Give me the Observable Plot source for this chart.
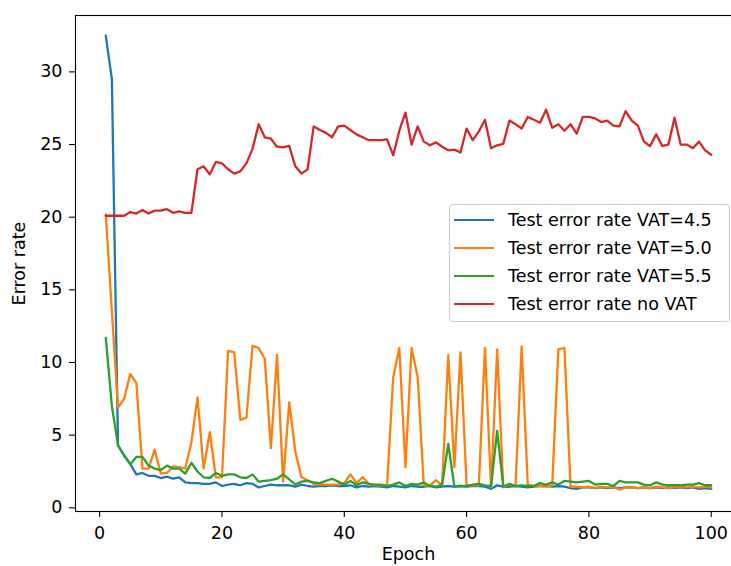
<!DOCTYPE html>
<html><head><meta charset="utf-8">
<script src="https://cdn.jsdelivr.net/npm/d3@7"></script>
<script src="https://cdn.jsdelivr.net/npm/@observablehq/plot@0.6"></script>
<style>
html,body{margin:0;padding:0;background:#fff;}
#wrap{position:relative;width:731px;height:566px;overflow:hidden;font-family:"DejaVu Sans",sans-serif;}
#chart svg{max-width:none !important;width:760px !important;height:566px !important;}
#legend{position:absolute;left:449px;top:204px;width:281px;height:118px;border:1px solid #cccccc;border-radius:4px;background:rgba(255,255,255,0.8);box-sizing:border-box;}
.row{position:absolute;left:0;height:28px;width:100%;}
.sw{position:absolute;left:4px;top:13px;width:40px;height:2.4px;}
.lt{position:absolute;left:58px;top:0;height:28px;line-height:28px;font-size:17.5px;color:#000;white-space:nowrap;}
</style>
</head><body>
<div id="wrap"><div id="chart"></div><div id="legend"></div></div>
<script>
const epochs = d3.range(1, 101);
const xTicks = [0, 20, 40, 60, 80, 100];
const yTicks = [0, 5, 10, 15, 20, 25, 30];
const seriesNames = ["Test error rate VAT=4.5", "Test error rate VAT=5.0", "Test error rate VAT=5.5", "Test error rate no VAT"];
const seriesColors = ["#1f77b4", "#ff7f0e", "#2ca02c", "#d62728"];

const vat45 = [32.5,29.5,4.3,3.6,3.0,2.3,2.4,2.2,2.2,2.05,
2.15,2.0,2.1,1.75,1.7,1.7,1.65,1.65,1.75,1.5,
1.6,1.65,1.55,1.7,1.65,1.4,1.5,1.6,1.55,1.55,
1.55,1.45,1.6,1.5,1.45,1.5,1.5,1.55,1.5,1.5,
1.55,1.4,1.5,1.45,1.5,1.45,1.4,1.5,1.45,1.4,
1.5,1.45,1.45,1.5,1.4,1.45,1.5,1.45,1.5,1.45,
1.5,1.5,1.45,1.3,1.55,1.45,1.45,1.5,1.45,1.4,
1.45,1.5,1.5,1.45,1.5,1.45,1.35,1.3,1.4,1.4,
1.35,1.4,1.35,1.4,1.35,1.4,1.4,1.35,1.4,1.35,
1.4,1.35,1.4,1.35,1.4,1.35,1.4,1.3,1.35,1.3];

const vat50 = [20.2,13.5,6.9,7.5,9.2,8.6,2.7,2.7,4.0,2.35,
2.4,2.85,2.8,2.7,4.5,7.6,2.7,5.2,2.1,2.1,
10.8,10.7,6.05,6.2,11.15,11.0,10.25,4.1,10.5,1.8,
7.25,3.85,2.1,1.9,1.65,1.6,1.6,1.6,1.6,1.7,
2.3,1.7,2.1,1.65,1.55,1.55,1.55,9.0,11.0,2.8,
11.0,9.0,1.55,1.55,1.9,1.55,10.5,2.8,10.7,1.55,
1.55,1.55,11.0,1.4,10.9,1.4,1.6,1.55,11.1,1.6,
1.5,1.5,1.45,1.55,10.9,11.0,1.45,1.45,1.4,1.45,
1.35,1.45,1.4,1.45,1.25,1.4,1.4,1.35,1.4,1.35,
1.45,1.4,1.35,1.4,1.45,1.4,1.45,1.4,1.45,1.4];

const vat55 = [11.7,7.0,4.3,3.6,3.0,3.5,3.5,2.9,2.7,2.6,
2.9,2.7,2.7,2.35,3.1,2.5,2.1,2.05,2.4,2.2,
2.3,2.3,2.1,2.05,2.3,1.8,1.85,1.9,2.0,2.3,
1.95,1.6,1.8,1.85,1.75,1.7,1.85,2.0,1.8,1.6,
1.85,1.55,1.75,1.65,1.6,1.6,1.5,1.6,1.75,1.5,
1.65,1.6,1.75,1.5,1.45,1.6,4.4,1.45,1.5,1.5,
1.6,1.65,1.55,1.5,5.3,1.45,1.65,1.5,1.55,1.5,
1.5,1.7,1.6,1.75,1.6,1.85,1.8,1.75,1.8,1.85,
1.6,1.65,1.65,1.5,1.85,1.75,1.75,1.75,1.6,1.55,
1.75,1.6,1.55,1.55,1.55,1.6,1.6,1.7,1.55,1.55];

const noVat = [20.1,20.1,20.1,20.1,20.35,20.25,20.5,20.25,20.45,20.45,
20.55,20.3,20.4,20.3,20.3,23.3,23.5,22.95,23.8,23.7,
23.3,23.0,23.15,23.7,24.7,26.4,25.5,25.4,24.85,24.8,
24.9,23.5,23.0,23.3,26.25,26.0,25.8,25.5,26.25,26.3,
26.0,25.7,25.5,25.3,25.3,25.3,25.35,24.25,25.95,27.2,
25.0,26.25,25.2,24.95,25.15,24.85,24.6,24.65,24.45,26.1,
25.3,25.9,26.7,24.75,24.95,25.05,26.65,26.4,26.1,26.9,
26.7,26.5,27.4,26.15,26.4,25.95,26.4,25.75,26.9,26.9,
26.8,26.55,26.65,26.3,26.25,27.3,26.65,26.3,25.2,24.9,
25.7,24.9,25.0,26.85,25.0,25.0,24.75,25.2,24.6,24.3];

const allSeries = [vat45, vat50, vat55, noVat];
const rows = allSeries.map((vals, i) => vals.map((v, j) => ({epoch: epochs[j], value: v, series: seriesNames[i]})));

const chart = Plot.plot({
  width: 760, height: 566,
  marginLeft: 75, marginRight: 19, marginTop: 15, marginBottom: 55,
  style: {fontFamily: "DejaVu Sans", fontSize: "17.5px", color: "#000", background: "white", overflow: "visible"},
  x: {domain: [-3.95, 104.95]},
  y: {domain: [-0.255, 33.88]},
  marks: [
    ...rows.map((r, i) => Plot.line(r, {x: "epoch", y: "value", stroke: seriesColors[i], strokeWidth: 2.3})),
    Plot.frame({stroke: "#000", strokeWidth: 1.1}),
    Plot.axisX({ticks: xTicks, tickSize: 6, tickPadding: 9, label: null, strokeWidth: 1.1, fontSize: 17.5, fill: "#000"}),
    Plot.axisY({ticks: yTicks, tickSize: 6, tickPadding: 7, label: null, strokeWidth: 1.1, fontSize: 17.5, fill: "#000"}),
    Plot.text(["Epoch"], {frameAnchor: "bottom", dy: 43, lineAnchor: "middle", textAnchor: "middle", text: d => d, fill: "#000", fontSize: 17.5}),
    Plot.text(["Error rate"], {frameAnchor: "left", dx: -56, rotate: -90, textAnchor: "middle", lineAnchor: "middle", text: d => d, fill: "#000", fontSize: 17.5})
  ]
});
document.getElementById("chart").appendChild(chart);

const leg = document.getElementById("legend");
seriesNames.forEach((name, i) => {
  const row = document.createElement("div");
  row.className = "row";
  row.style.top = (1 + i * 28) + "px";
  const sw = document.createElement("div");
  sw.className = "sw";
  sw.style.background = seriesColors[i];
  const t = document.createElement("div");
  t.className = "lt";
  t.textContent = name;
  row.appendChild(sw); row.appendChild(t);
  leg.appendChild(row);
});
</script>
</body></html>
